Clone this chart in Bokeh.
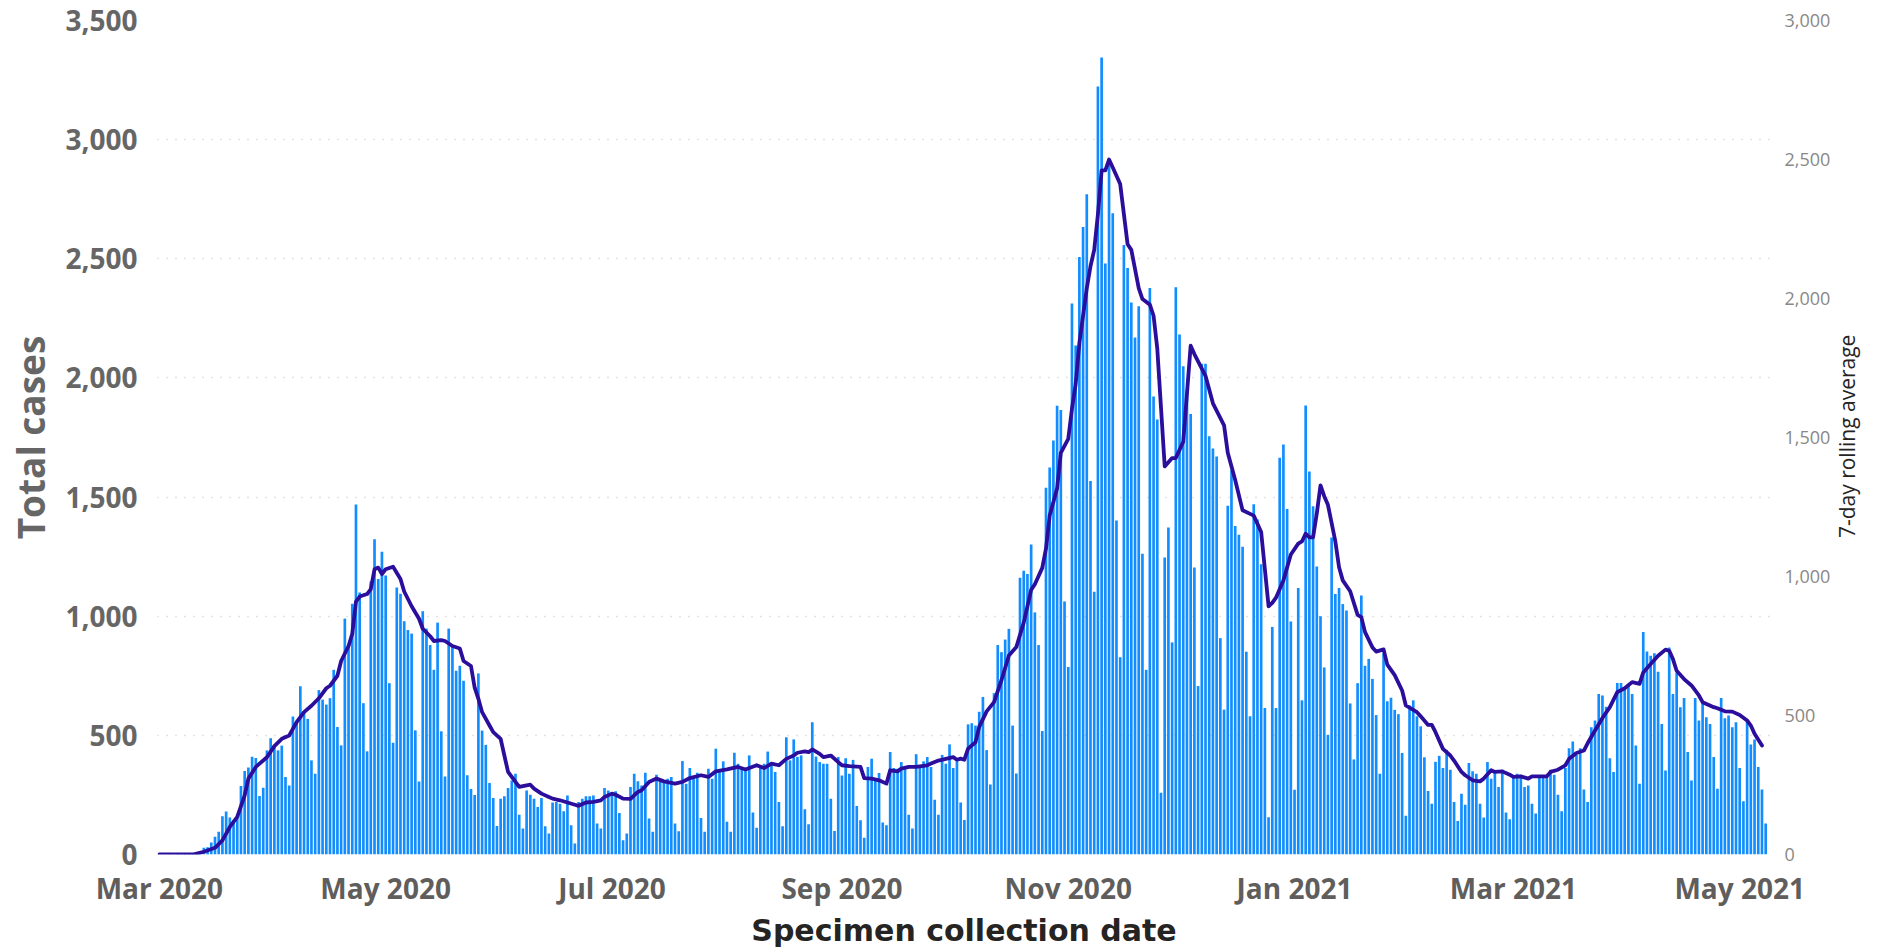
import math
import pandas as pd
from bokeh.plotting import figure
from bokeh.models import Range1d, LinearAxis, FixedTicker, NumeralTickFormatter, DatetimeTickFormatter
from bokeh.embed import file_html
from bokeh.resources import INLINE

START = "2020-03-01"

# Daily total cases by specimen collection date (Mar 1 2020 .. May 8 2021)
cases = [
    0, 0, 0, 1, 0, 2, 1, 2, 3, 5, 8, 15,
    28, 30, 50, 75, 95, 160, 180, 155, 145, 170, 287, 350, 365, 410, 405, 245, 280, 437,
    488, 457, 437, 457, 325, 290, 579, 552, 706, 597, 569, 395, 339, 690,
    650, 629, 656, 775, 535, 458, 990, 875, 1052, 1469, 1100, 635, 433,
    1146, 1323, 1156, 1271, 1171, 719, 469,
    1121, 1094, 979, 942, 927, 521, 306,
    1021, 948, 879, 775, 973, 517, 327,
    948, 875, 771, 792, 729, 333, 275,
    250, 760, 520, 460, 300, 237, 120,
    234, 244, 279, 311, 339, 167, 109,
    269, 251, 234, 199, 237, 119, 88,
    218, 220, 213, 181, 248, 123, 46,
    220, 234, 244, 244, 248, 130, 109,
    279, 269, 262, 265, 174, 60, 88,
    283, 339, 307, 290, 343, 151, 95,
    335, 318, 304, 318, 325, 130, 98,
    392, 297, 363, 325, 343, 153, 95,
    360, 318, 444, 349, 391, 137, 95,
    427, 381, 360, 353, 416, 176, 112,
    367, 381, 432, 381, 346, 220, 119,
    492, 395, 483, 410, 416, 190, 127,
    555, 411, 388, 381, 381, 234, 99,
    409, 332, 404, 339, 397, 204, 144,
    70, 367, 402, 314, 342, 134, 123,
    430, 363, 360, 388, 363, 167, 109,
    421, 374, 391, 409, 367, 230, 167,
    418, 381, 462, 363, 402, 218, 145,
    546, 551, 541, 599, 661, 438, 294,
    677, 879, 849, 902, 947, 541, 340,
    1161, 1191, 1177, 1301, 1016, 879, 518,
    1539, 1624, 1737, 1883, 1865, 1062, 787,
    2312, 2136, 2507, 2633, 2771, 1567, 1103,
    3223, 3345, 2480, 2900, 2691, 1402, 828,
    2558, 2461, 2317, 2170, 2301, 1262, 775,
    2377, 1922, 1826, 259, 1246, 1372, 890,
    2381, 2182, 2049, 1950, 1849, 1204, 707,
    2060, 2060, 1755, 1704, 1670, 908, 608,
    1464, 1613, 1379, 1342, 1292, 851, 580,
    1470, 1406, 1218, 615, 156, 955, 615,
    1665, 1721, 1450, 978, 272, 1118, 647,
    1884, 1607, 1462, 1209, 1000, 785, 502,
    1330, 1093, 1118, 1051, 1024, 634, 399,
    719, 1087, 792, 821, 737, 585, 339,
    843, 643, 658, 607, 589, 426, 163,
    625, 647, 580, 538, 408, 266, 213,
    389, 414, 363, 439, 356, 220, 141,
    255, 209, 384, 349, 339, 213, 155,
    388, 318, 346, 283, 356, 176, 148,
    321, 339, 335, 283, 290, 213, 172,
    321, 332, 332, 356, 335, 251, 181,
    363, 446, 474, 418, 446, 273, 220,
    534, 562, 674, 667, 620, 404, 346,
    720, 720, 695, 709, 674, 457, 297,
    934, 852, 834, 845, 767, 548, 353,
    869, 674, 762, 618, 657, 430, 311,
    657, 562, 639, 576, 548, 409, 276,
    657, 572, 583, 534, 555, 363, 223,
    562, 462, 483, 367, 273, 130,
]

# 7-day rolling average (right axis): day offset from START and value
avg_day = [
    0, 9, 12, 15, 17, 19, 21, 23, 24, 26, 29, 31, 33, 35, 37, 39, 41, 43, 45, 46,
    48, 49, 51, 52, 53, 54, 56, 57, 58, 59, 60, 61, 63, 65, 66, 68, 70, 71, 73, 74,
    76, 77, 79, 81, 82, 84, 85, 86, 87, 89, 90, 92, 93, 94, 96, 97, 99, 100, 101, 103,
    105, 106, 108, 110, 112, 113, 115, 117, 119, 120, 122, 123, 125, 127, 128, 129, 130, 132, 134, 136,
    139, 141, 143, 146, 148, 150, 153, 156, 158, 161, 163, 165, 167, 169, 171, 172, 174, 175, 176, 178,
    179, 181, 183, 184, 186, 189, 190, 192, 194, 196, 197, 199, 200, 202, 204, 207, 208, 210, 212, 214,
    215, 216, 217, 218, 220, 221, 223, 225, 227, 229, 231, 233, 235, 236, 238, 239, 240, 242, 243, 245,
    246, 247, 248, 250, 251, 252, 253, 254, 255, 256, 257, 259, 261, 262, 264, 265, 267, 268, 269, 271,
    273, 274, 276, 278, 279, 282, 284, 287, 288, 290, 292, 295, 297, 299, 300, 301, 303, 305, 307, 308,
    309, 310, 311, 312, 313, 314, 315, 317, 318, 319, 321, 323, 324, 325, 327, 328, 330, 331, 333, 335,
    336, 339, 340, 342, 343, 344, 346, 348, 349, 351, 352, 354, 356, 357, 359, 360, 362, 364, 365, 367,
    369, 370, 372, 374, 375, 377, 379, 380, 382, 384, 385, 387, 389, 391, 393, 395, 397, 399, 400, 402,
    404, 406, 407, 408, 409, 411, 413, 415, 416, 419, 420, 422, 424, 426, 428, 429, 430, 432,
]
avg_value = [
    0, 0, 10, 24, 51, 99, 135, 213, 273, 315, 350, 390, 416, 428, 476, 512, 535, 562, 598, 607,
    643, 696, 750, 794, 910, 928, 937, 955, 1026, 1032, 1009, 1026, 1035, 991, 946, 893, 848, 812, 785, 768,
    771, 768, 750, 741, 696, 678, 600, 560, 512, 464, 440, 416, 356, 297, 261, 243, 249, 251, 237, 219,
    207, 201, 195, 187, 179, 175, 187, 189, 195, 207, 219, 215, 201, 200, 213, 225, 231, 261, 273, 263,
    255, 261, 275, 285, 279, 299, 306, 315, 306, 321, 311, 327, 321, 344, 356, 366, 371, 368, 378, 362,
    350, 356, 332, 321, 318, 315, 275, 273, 267, 255, 303, 299, 309, 315, 315, 321, 327, 338, 344, 350,
    341, 345, 341, 381, 404, 459, 515, 548, 627, 716, 746, 834, 952, 972, 1031, 1100, 1219, 1317, 1445, 1495,
    1603, 1692, 1840, 2037, 2116, 2175, 2303, 2461, 2461, 2500, 2471, 2412, 2195, 2175, 2037, 1998, 1978, 1938, 1820, 1396,
    1426, 1426, 1485, 1830, 1800, 1722, 1623, 1544, 1445, 1347, 1238, 1219, 1160, 893, 905, 924, 986, 1079, 1118, 1126,
    1154, 1141, 1141, 1227, 1328, 1289, 1258, 1126, 1033, 986, 947, 862, 854, 800, 745, 730, 738, 683, 645, 590,
    536, 512, 497, 466, 466, 440, 380, 356, 338, 297, 285, 267, 263, 273, 303, 297, 299, 287, 279, 281,
    273, 281, 281, 281, 297, 305, 321, 344, 365, 374, 400, 446, 491, 530, 584, 598, 620, 614, 655, 685,
    715, 737, 733, 703, 661, 631, 608, 572, 548, 530, 526, 515, 514, 502, 482, 464, 434, 392,
]

tick_months = ["2020-03-01", "2020-05-01", "2020-07-01", "2020-09-01",
               "2020-11-01", "2021-01-01", "2021-03-01", "2021-05-01"]
left_ticks = [0, 500, 1000, 1500, 2000, 2500, 3000, 3500]
right_ticks = [0, 500, 1000, 1500, 2000, 2500, 3000]
right_title = "7-day rolling average"

assert len(avg_day) == len(avg_value)

start = pd.Timestamp(START)
dates = pd.date_range(START, periods=len(cases), freq="D")
avg_dates = start + pd.to_timedelta(avg_day, unit="D")
DAY_MS = 86400000

SANS = "Open Sans"

p = figure(
    width=1878, height=950,
    x_axis_type="datetime",
    x_range=Range1d(start - pd.Timedelta(hours=12), start + pd.Timedelta(days=434.3)),
    y_range=Range1d(0, 3500),
    output_backend="svg", toolbar_location=None,
    min_border_left=157, min_border_right=108, min_border_top=20, min_border_bottom=94,
)
p.extra_y_ranges = {"right": Range1d(0, 3000)}
p.outline_line_color = None
p.background_fill_color = "white"
p.border_fill_color = "white"

p.vbar(x=dates, top=cases, width=0.72 * DAY_MS, fill_color="#118DFF", line_color=None)
p.line(x=avg_dates, y=avg_value, y_range_name="right", line_width=3.8,
       line_color="#2C0E9C", line_join="round", line_cap="round")

# grid
p.xgrid.grid_line_color = None
p.ygrid.ticker = FixedTicker(ticks=left_ticks)
p.ygrid.grid_line_color = "#C8C6C4"
p.ygrid.grid_line_dash = "1 8"
p.ygrid.grid_line_width = 1.5

# x axis
xa = p.xaxis[0]
xa.ticker = FixedTicker(ticks=[pd.Timestamp(t).value // 10**6 for t in tick_months])
fmt = "%b %Y"
xa.formatter = DatetimeTickFormatter(years=fmt, months=fmt, days=fmt, hours=fmt,
                                     minutes=fmt, seconds=fmt, milliseconds=fmt,
                                     microseconds=fmt, hourmin=fmt, minsec=fmt, context=None)
xa.axis_line_color = None
xa.major_tick_line_color = None
xa.minor_tick_line_color = None
xa.major_label_text_font = SANS
xa.major_label_text_font_style = "bold"
xa.major_label_text_font_size = "28px"
xa.major_label_text_color = "#605E5C"
xa.major_label_standoff = 8
xa.axis_label = "Specimen collection date"
xa.axis_label_text_font = "DejaVu Sans"
xa.axis_label_text_font_style = "bold"
xa.axis_label_text_font_size = "30px"
xa.axis_label_text_color = "#252423"
xa.axis_label_standoff = 3

# left axis
ya = p.yaxis[0]
ya.ticker = FixedTicker(ticks=left_ticks)
ya.formatter = NumeralTickFormatter(format="0,0")
ya.axis_line_color = None
ya.major_tick_line_color = None
ya.minor_tick_line_color = None
ya.major_label_text_font = SANS
ya.major_label_text_font_style = "bold"
ya.major_label_text_font_size = "28px"
ya.major_label_text_color = "#666666"
ya.major_label_standoff = 14
ya.axis_label = "Total cases"
ya.axis_label_text_font = SANS
ya.axis_label_text_font_style = "bold"
ya.axis_label_text_font_size = "37px"
ya.axis_label_text_color = "#666666"
ya.axis_label_standoff = 6

# right axis (tick labels)
ra = LinearAxis(y_range_name="right", ticker=FixedTicker(ticks=right_ticks),
                formatter=NumeralTickFormatter(format="0,0"))
ra.axis_line_color = None
ra.major_tick_line_color = None
ra.minor_tick_line_color = None
ra.major_label_text_font = SANS
ra.major_label_text_font_size = "18px"
ra.major_label_text_color = "#8A8886"
ra.major_label_standoff = 8
p.add_layout(ra, "right")

# right axis title, reading bottom-to-top
rt = LinearAxis(y_range_name="right", ticker=FixedTicker(ticks=[]))
rt.axis_line_color = None
rt.major_tick_line_color = None
rt.minor_tick_line_color = None
rt.major_label_standoff = 0
rt.axis_label_text_font = SANS
rt.axis_label_text_font_size = "21px"
rt.axis_label_text_font_style = "normal"
rt.axis_label_text_color = "#252423"
rt.axis_label_standoff = 13
title_text = right_title
try:
    rt.axis_label_orientation = math.pi / 2
    try:
        rt.axis_label_align = "start"
        title_text = "\u00a0" * 58 + right_title
    except Exception:
        pass
except Exception:
    pass
rt.axis_label = title_text
p.add_layout(rt, "right")

open("out.html", "w").write(file_html(p, INLINE))
